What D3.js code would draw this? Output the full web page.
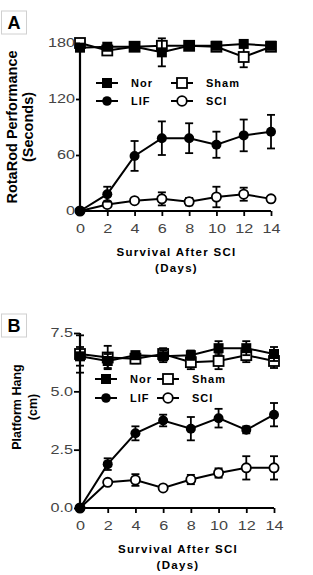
<!DOCTYPE html>
<html>
<head>
	<meta charset="utf-8">
	<script src="https://d3js.org/d3.v7.min.js"></script>
	<title>RotaRod and Platform Hang</title>
	<style>
		body { margin: 0; background: #fff; }
		text { font-family: Arial, "Liberation Sans", sans-serif; }
	</style>
</head>
<body>
	<div id="chart"></div>

	<script type="text/javascript">

		// x values shared by both panels (days after SCI)
		var days = [0, 2, 4, 6, 8, 10, 12, 14];

		// Panel A: RotaRod performance (seconds)
		var rotaNor     = [175, 176, 176, 170, 177, 177, 179, 177];
		var rotaNorErr  = [3, 2, 2, 15, 2, 2, 2, 2];
		var rotaSham    = [180, 172, 176, 177, 177, 176, 165, 176];
		var rotaShamErr = [2, 4, 2, 3, 2, 2, 11, 2];
		var rotaLif     = [0, 18, 59, 78, 78, 71, 81, 85];
		var rotaLifErr  = [1, 8, 16, 18, 16, 14, 17, 18];
		var rotaSci     = [0, 7, 11, 13, 10, 15, 18, 13];
		var rotaSciErr  = [1, 3, 2, 7, 4, 11, 7, 3];
		var rotaTicks   = [0, 60, 120, 180];

		// Panel B: platform hang (cm)
		var hangNor     = [6.5, 6.3, 6.55, 6.5, 6.55, 6.85, 6.85, 6.6];
		var hangNorErr  = [0.4, 0.3, 0.15, 0.25, 0.2, 0.3, 0.3, 0.3];
		var hangSham    = [6.6, 6.45, 6.4, 6.6, 6.25, 6.3, 6.55, 6.3];
		var hangShamErr = [0.8, 0.5, 0.2, 0.25, 0.3, 0.35, 0.3, 0.3];
		var hangLif     = [0, 1.88, 3.2, 3.75, 3.4, 3.85, 3.35, 4.0];
		var hangLifErr  = [0.05, 0.25, 0.3, 0.25, 0.5, 0.4, 0.15, 0.5];
		var hangSci     = [0, 1.1, 1.2, 0.86, 1.22, 1.5, 1.72, 1.72];
		var hangSciErr  = [0.05, 0.05, 0.25, 0.05, 0.2, 0.2, 0.5, 0.5];
		var hangTicks   = [0, 2.5, 5.0, 7.5];

		var xTicks = [0, 2, 4, 6, 8, 10, 12, 14];
		var groupNames = ["Nor", "Sham", "LIF", "SCI"];

		var svg = d3.select("#chart").append("svg")
			.attr("width", 313)
			.attr("height", 575);

		function drawPanel(p) {
			var g = svg.append("g");

			var xScale = d3.scaleLinear().domain([0, 14]).range([p.x0, p.x1]);
			var yScale = d3.scaleLinear().domain(p.yDomain).range([p.y0, p.y1]);

			// panel letter
			g.append("rect")
				.attr("x", 1.5).attr("y", p.boxY)
				.attr("width", 25).attr("height", 23)
				.attr("fill", "white").attr("stroke", "#d0d0d0");
			g.append("text")
				.attr("x", 14).attr("y", p.boxY + 18)
				.attr("text-anchor", "middle")
				.attr("font-weight", "bold").attr("font-size", 18)
				.text(p.letter);

			var series = [
				{name: "Sham", v: p.sham, e: p.shamErr, shape: "square", fill: "white"},
				{name: "Nor", v: p.nor, e: p.norErr, shape: "square", fill: "black"},
				{name: "SCI", v: p.sci, e: p.sciErr, shape: "circle", fill: "white"},
				{name: "LIF", v: p.lif, e: p.lifErr, shape: "circle", fill: "black"}
			];

			var line = d3.line()
				.x(function(d){ return xScale(d[0]); })
				.y(function(d){ return yScale(d[1]); });

			series.forEach(function(s) {
				var pts = days.map(function(d, i){ return [d, s.v[i], s.e[i]]; });
				var sg = g.append("g");

				// error bars
				var eb = sg.selectAll(".err").data(pts).enter().append("g");
				eb.append("line")
					.attr("x1", function(d){ return xScale(d[0]); })
					.attr("x2", function(d){ return xScale(d[0]); })
					.attr("y1", function(d){ return yScale(d[1] - d[2]); })
					.attr("y2", function(d){ return yScale(d[1] + d[2]); })
					.attr("stroke", "black").attr("stroke-width", 1.8);
				[-1, 1].forEach(function(sign) {
					eb.append("line")
						.attr("x1", function(d){ return xScale(d[0]) - 4; })
						.attr("x2", function(d){ return xScale(d[0]) + 4; })
						.attr("y1", function(d){ return yScale(d[1] + sign * d[2]); })
						.attr("y2", function(d){ return yScale(d[1] + sign * d[2]); })
						.attr("stroke", "black").attr("stroke-width", 1.8);
				});

				sg.append("path")
					.datum(pts)
					.attr("d", line)
					.attr("fill", "none")
					.attr("stroke", "black")
					.attr("stroke-width", 2);

				if (s.shape == "square") {
					sg.selectAll(".mk").data(pts).enter().append("rect")
						.attr("x", function(d){ return xScale(d[0]) - 5; })
						.attr("y", function(d){ return yScale(d[1]) - 5; })
						.attr("width", 10).attr("height", 10)
						.attr("fill", s.fill)
						.attr("stroke", "black").attr("stroke-width", s.fill == "white" ? 1.8 : 0);
				} else {
					sg.selectAll(".mk").data(pts).enter().append("circle")
						.attr("cx", function(d){ return xScale(d[0]); })
						.attr("cy", function(d){ return yScale(d[1]); })
						.attr("r", s.fill == "white" ? 4.6 : 5)
						.attr("fill", s.fill)
						.attr("stroke", "black").attr("stroke-width", s.fill == "white" ? 1.8 : 0);
				}
			});

			// axes
			var xAxis = d3.axisBottom(xScale).tickValues(xTicks).tickSize(5).tickPadding(8);
			var yAxis = d3.axisLeft(yScale).tickValues(p.yTicks).tickSize(p.yTickSize).tickFormat(p.yFormat);

			var gx = g.append("g")
				.attr("transform", "translate(0," + p.y0 + ")")
				.call(xAxis);
			var gy = g.append("g")
				.attr("transform", "translate(" + p.x0 + ",0)")
				.call(yAxis);

			[gx, gy].forEach(function(ax) {
				ax.select(".domain").attr("stroke-width", 2.2).attr("d",
					ax === gx ? "M" + p.x0 + ",0H" + p.x1 : "M0," + p.y1 + "V" + p.y0);
				ax.selectAll(".tick line").attr("stroke-width", 1.8);
				ax.selectAll(".tick text")
					.attr("font-size", 12)
					.attr("font-family", "Arial, 'Liberation Sans', sans-serif")
					.attr("fill", "#444");
			});
			gy.selectAll(".tick text")
				.attr("x", -(p.yTickSize + 1) / 1.35)
				.attr("transform", "scale(1.35,1)");
			gx.selectAll(".tick text")
				.attr("transform", "scale(1.35,1)");

			// axis titles
			var xt = (p.x0 + p.x1) / 2 + 1;
			g.append("text")
				.attr("x", xt).attr("y", p.y0 + 45)
				.attr("text-anchor", "middle")
				.attr("font-weight", "bold").attr("font-size", 11.5)
				.attr("letter-spacing", 1.3)
				.text("Survival After SCI");
			g.append("text")
				.attr("x", xt).attr("y", p.y0 + 61)
				.attr("text-anchor", "middle")
				.attr("font-weight", "bold").attr("font-size", 11.5)
				.attr("letter-spacing", 1.3)
				.text("(Days)");

			p.yTitle.forEach(function(t, i) {
				g.append("text")
					.attr("transform", "translate(" + p.yTitleX[i] + "," + p.yTitleMid + ") rotate(-90)")
					.attr("text-anchor", "middle")
					.attr("font-weight", "bold").attr("font-size", p.yTitleSize)
					.text(t);
			});

			// legend
			var legend = [
				{name: groupNames[0], x: p.legX[0], y: p.legY[0], shape: "square", fill: "black"},
				{name: groupNames[1], x: p.legX[1], y: p.legY[0], shape: "square", fill: "white"},
				{name: groupNames[2], x: p.legX[0], y: p.legY[1], shape: "circle", fill: "black"},
				{name: groupNames[3], x: p.legX[1], y: p.legY[1], shape: "circle", fill: "white"}
			];
			var lg = g.selectAll(".leg").data(legend).enter().append("g")
				.attr("transform", function(d){ return "translate(" + d.x + "," + d.y + ")"; });
			lg.append("line")
				.attr("x1", -11).attr("x2", 11)
				.attr("stroke", "black").attr("stroke-width", 2);
			lg.filter(function(d){ return d.shape == "square"; }).append("rect")
				.attr("x", -5).attr("y", -5).attr("width", 10).attr("height", 10)
				.attr("fill", function(d){ return d.fill; })
				.attr("stroke", "black")
				.attr("stroke-width", function(d){ return d.fill == "white" ? 1.8 : 0; });
			lg.filter(function(d){ return d.shape == "circle"; }).append("circle")
				.attr("r", 4.8)
				.attr("fill", function(d){ return d.fill; })
				.attr("stroke", "black")
				.attr("stroke-width", function(d){ return d.fill == "white" ? 1.8 : 0; });
			lg.append("text")
				.attr("x", 24).attr("y", 4)
				.attr("font-weight", "bold").attr("font-size", 11)
				.attr("letter-spacing", 1)
				.text(function(d){ return d.name; });
		}

		drawPanel({
			letter: "A", boxY: 11,
			x0: 80, x1: 271, y0: 211, y1: 43,
			yDomain: [0, 180], yTicks: rotaTicks, yTickSize: 4,
			yFormat: d3.format("d"),
			nor: rotaNor, norErr: rotaNorErr, sham: rotaSham, shamErr: rotaShamErr,
			lif: rotaLif, lifErr: rotaLifErr, sci: rotaSci, sciErr: rotaSciErr,
			yTitle: ["RotaRod Performance", "(Seconds)"], yTitleX: [17, 33], yTitleMid: 127, yTitleSize: 14.5,
			legX: [107, 182], legY: [83, 101]
		});

		drawPanel({
			letter: "B", boxY: 314,
			x0: 80, x1: 274, y0: 508, y1: 333,
			yDomain: [0, 7.5], yTicks: hangTicks, yTickSize: 6,
			yFormat: d3.format(".1f"),
			nor: hangNor, norErr: hangNorErr, sham: hangSham, shamErr: hangShamErr,
			lif: hangLif, lifErr: hangLifErr, sci: hangSci, sciErr: hangSciErr,
			yTitle: ["Platform Hang", "(cm)"], yTitleX: [21, 37], yTitleMid: 407, yTitleSize: 12.5,
			legX: [106, 168], legY: [379, 398]
		});

	</script>
</body>
</html>
